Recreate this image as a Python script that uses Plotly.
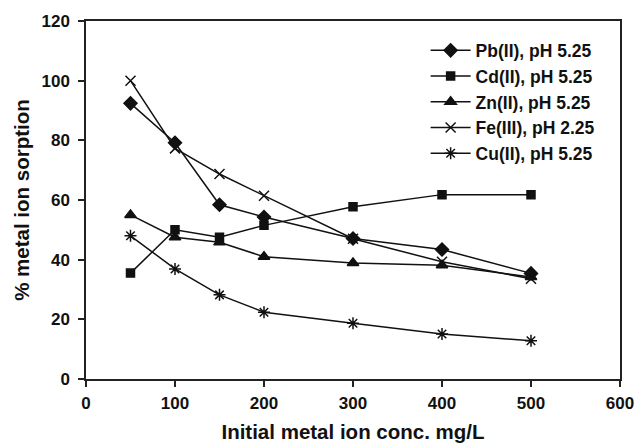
import plotly.graph_objects as go

# Initial metal ion concentration (mg/L)
conc = [50, 100, 150, 200, 300, 400, 500]

# % metal ion sorption for each metal
pb = [92.4, 79.2, 58.4, 54.3, 47.1, 43.4, 35.4]
cd = [35.5, 50.0, 47.5, 51.5, 57.7, 61.8, 61.8]
zn = [55.0, 47.5, 45.8, 41.0, 38.9, 38.1, 34.2]
fe = [100.0, 77.3, 68.7, 61.4, 47.0, 39.3, 33.6]
cu = [48.0, 36.9, 28.2, 22.4, 18.7, 15.1, 12.8]

series = [
    ("Pb(II), pH 5.25", pb, "diamond", 10),
    ("Cd(II), pH 5.25", cd, "square", 8),
    ("Zn(II), pH 5.25", zn, "triangle-up", 10),
    ("Fe(III), pH 2.25", fe, "x-thin-open", 10),
    ("Cu(II), pH 5.25", cu, "asterisk-open", 10),
]

FONT = "Liberation Sans, Arial, sans-serif"

fig = go.Figure()
for i, (name, vals, sym, size) in enumerate(series):
    fig.add_trace(go.Scatter(
        x=conc, y=vals, name=name, mode="lines+markers",
        legendgroup=f"g{i}",
        line=dict(color="#111111", width=1.5),
        marker=dict(symbol=sym, size=size, color="#111111",
                    line=dict(color="#111111", width=1.5)),
    ))

axis_common = dict(
    showgrid=False, zeroline=False, showline=True, mirror=True,
    linecolor="#222222", linewidth=1.5, ticks="outside", ticklen=6,
    tickwidth=1.5, tickcolor="#222222", automargin=False,
    tickfont=dict(family=FONT, size=17, color="#111111", weight="bold"),
)

fig.update_layout(
    width=635, height=443,
    margin=dict(l=86, r=15, t=21, b=64),
    paper_bgcolor="white", plot_bgcolor="white",
    font=dict(family=FONT, color="#111111"),
    xaxis=dict(range=[0, 600], tickvals=[0, 100, 200, 300, 400, 500, 600],
               ticklabelstandoff=2,
               title=dict(text="<b>Initial metal ion conc. mg/L</b>",
                          font=dict(family=FONT, size=20.5), standoff=14),
               **axis_common),
    yaxis=dict(range=[0, 120], tickvals=[0, 20, 40, 60, 80, 100, 120],
               ticklabelstandoff=5,
               title=dict(text="<b>% metal ion sorption</b>",
                          font=dict(family=FONT, size=20.5), standoff=6),
               **axis_common),
    legend=dict(x=0.636, y=0.968, xanchor="left", yanchor="top",
                bgcolor="rgba(0,0,0,0)", itemwidth=40,
                tracegroupgap=0,
                font=dict(family=FONT, size=17.5, color="#111111", weight="bold")),
    showlegend=True,
)

fig.write_html("out.html")
